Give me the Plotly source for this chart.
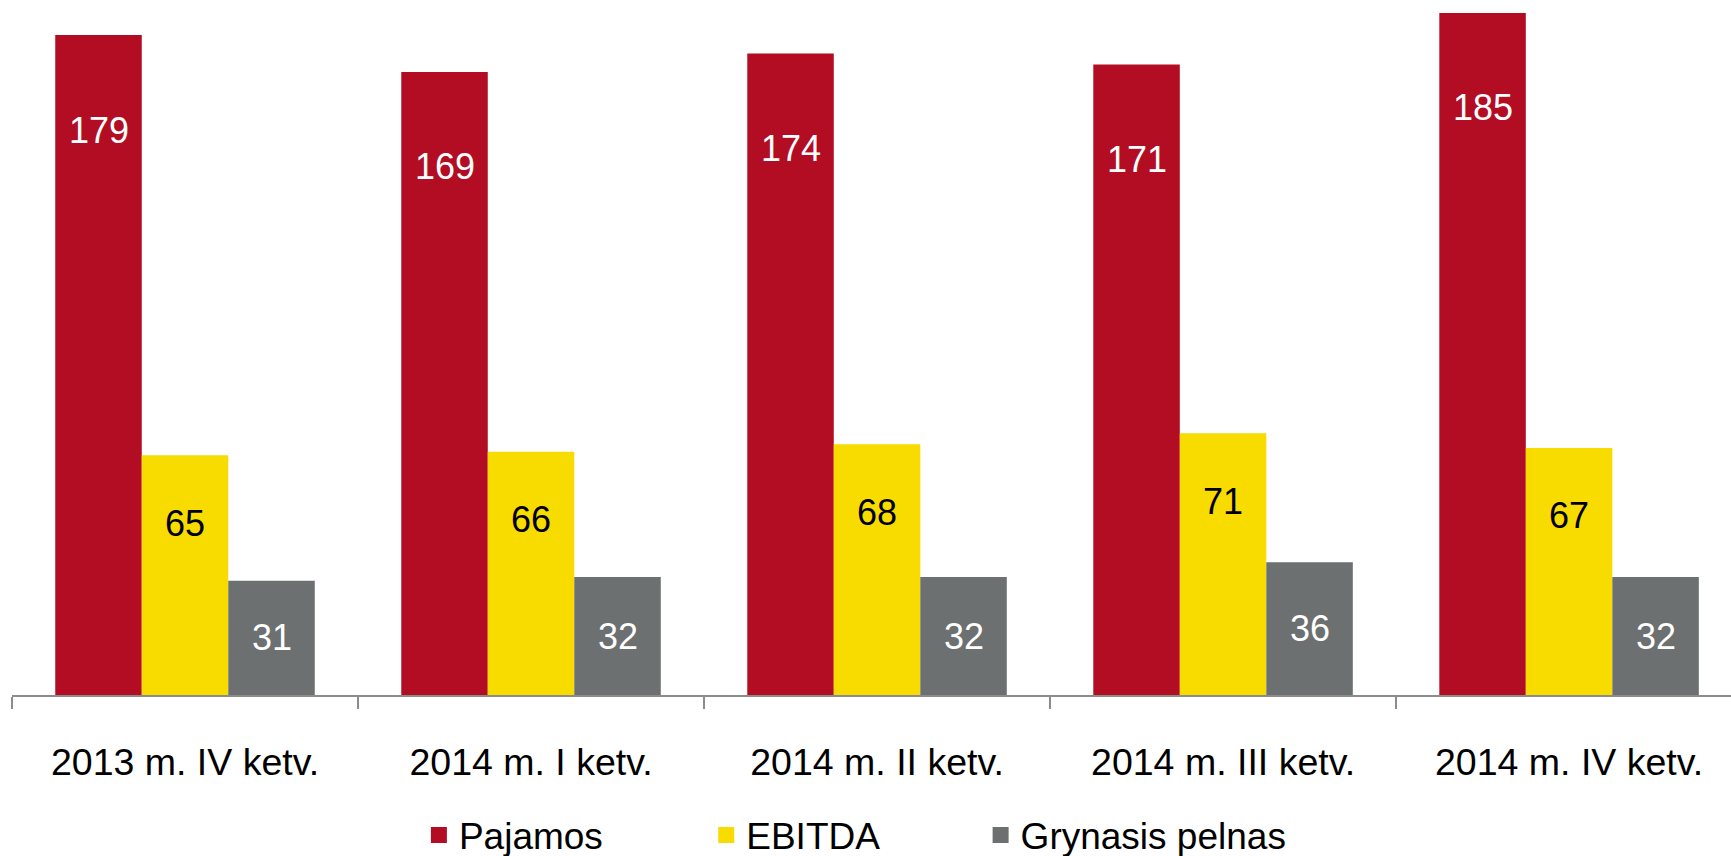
import plotly.graph_objects as go

categories = ["2013 m. IV ketv.", "2014 m. I ketv.", "2014 m. II ketv.", "2014 m. III ketv.", "2014 m. IV ketv."]
pajamos = [179, 169, 174, 171, 185]
ebitda = [65, 66, 68, 71, 67]
grynasis = [31, 32, 32, 36, 32]

series_names = ["Pajamos", "EBITDA", "Grynasis pelnas"]
colors = ["#B20D23", "#F8DC00", "#6D7070"]
label_colors = ["white", "black", "white"]
legend_ids = ["legend", "legend2", "legend3"]
legend_x = [0.2420, 0.4080, 0.5665]

FONT = "Liberation Sans, Arial, sans-serif"

fig = go.Figure()
all_series = [pajamos, ebitda, grynasis]
for name, vals, col, lid in zip(series_names, all_series, colors, legend_ids):
    fig.add_trace(go.Bar(x=categories, y=vals, name=name, marker_color=col,
                         marker_line_width=0, showlegend=False, hoverinfo="skip"))
    fig.add_trace(go.Scatter(x=[None], y=[None], mode="markers", name=name, legend=lid,
                             marker=dict(symbol="square", size=18, color=col)))

bar_offsets = [-0.25, 0.0, 0.25]
for si, vals in enumerate(all_series):
    for ci, v in enumerate(vals):
        if si == 2:
            y, ys = v / 2, 0
        elif si == 0:
            y, ys = v, -95
        else:
            y, ys = v, -68
        fig.add_annotation(x=ci + bar_offsets[si], y=y, yshift=ys, text=str(v),
                           showarrow=False,
                           font=dict(family=FONT, size=36, color=label_colors[si]))

legend_common = dict(orientation="h", xref="container", yref="container",
                     y=0.024, yanchor="middle", xanchor="left",
                     font=dict(family=FONT, size=37, color="black"),
                     itemwidth=30, bgcolor="rgba(0,0,0,0)")
fig.update_layout(
    width=1731, height=856,
    margin=dict(l=12, r=0, t=0, b=161, autoexpand=False),
    paper_bgcolor="white", plot_bgcolor="white",
    barmode="group", bargap=0.25, bargroupgap=0,
    font=dict(family=FONT, size=37, color="black"),
    showlegend=True,
    legend=dict(x=legend_x[0], **legend_common),
    legend2=dict(x=legend_x[1], **legend_common),
    legend3=dict(x=legend_x[2], **legend_common),
)
fig.update_xaxes(range=[-0.5, 4.468], showline=True, linecolor="#8C8C8C", linewidth=2,
                 ticks="outside", tickson="boundaries", ticklen=12, tickcolor="#8C8C8C",
                 tickwidth=2, showgrid=False, zeroline=False, automargin=False,
                 ticklabelstandoff=33,
                 tickfont=dict(family=FONT, size=37.5, color="black"))
fig.update_yaxes(range=[0, 188.5], visible=False, showgrid=False, zeroline=False,
                 automargin=False)

fig.write_html("out.html", config={"displayModeBar": False},
               post_script="document.body.style.margin='0';document.body.style.overflow='hidden';")
